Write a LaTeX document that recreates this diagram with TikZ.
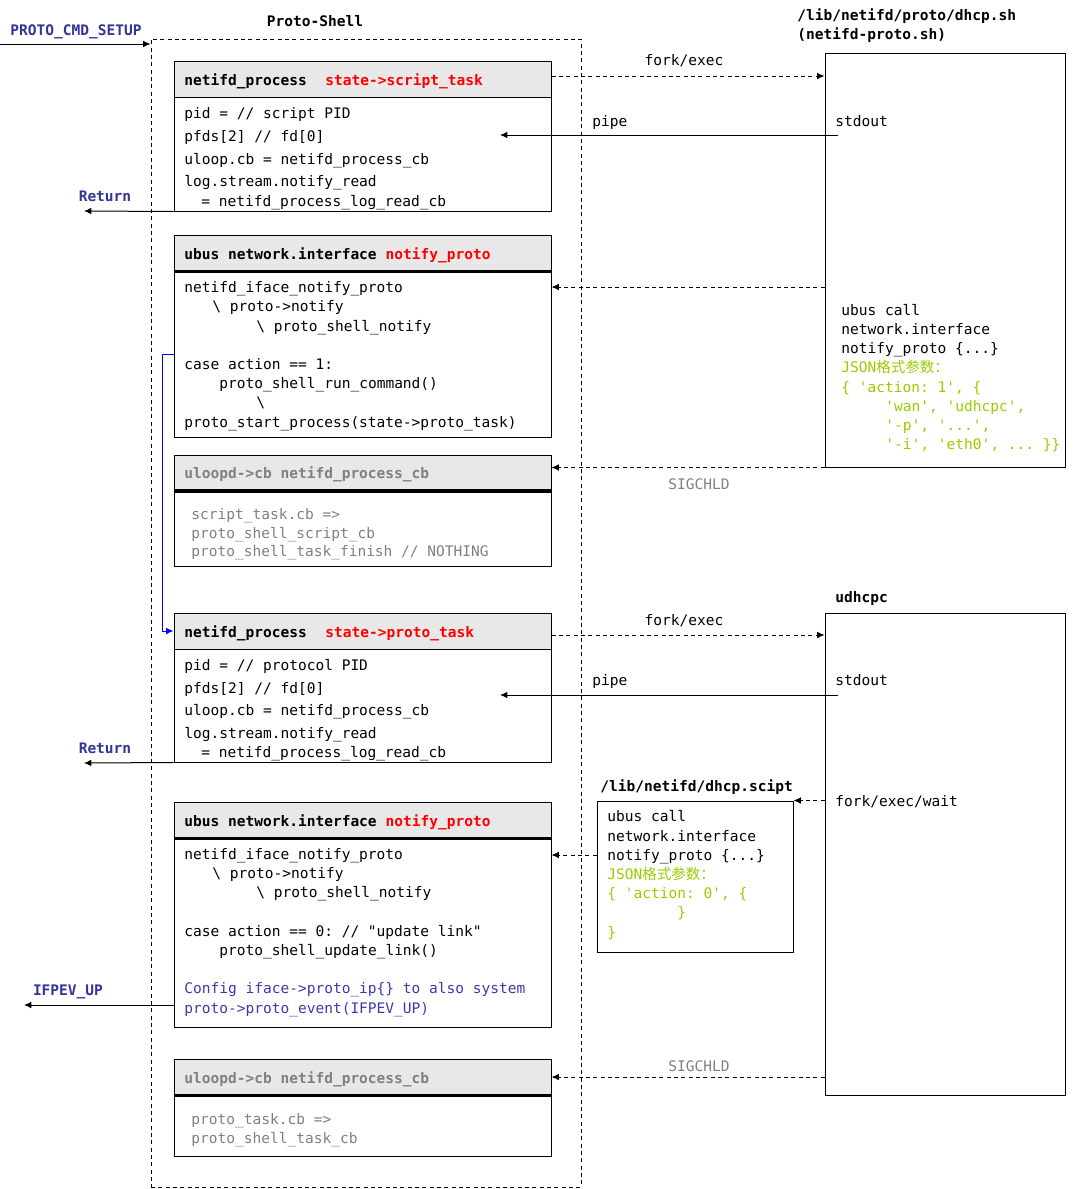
\documentclass[tikz,border=0pt]{standalone}
\usepackage{fontspec}
\setmonofont{DejaVu Sans Mono}
\newfontfamily\cjk{Noto Sans CJK SC}
\usetikzlibrary{arrows.meta,fit}
\definecolor{lblue}{RGB}{51,51,153}
\definecolor{cblue}{RGB}{58,58,175}
\definecolor{jgreen}{RGB}{153,204,0}
\definecolor{tgray}{RGB}{128,128,128}
\definecolor{hgray}{RGB}{232,232,232}
\definecolor{lnblue}{RGB}{0,0,255}
\newcommand\cf{\ttfamily\fontsize{10.9}{13}\selectfont}
\newcommand\putl[4]{\node[code] (#1) at (#2,#3) {#4};}
\newcommand\us{\_}
\newcommand\bs{\textbackslash}
\tikzset{
  code/.style={anchor=west, inner sep=0pt, font=\cf, text height=1.55ex, text depth=0.35ex, yshift=-1.5pt},
  bcode/.style={code, font=\cf\bfseries},
  hdr/.style={draw, fill=hgray, inner sep=0pt, line width=0.75pt},
  bodybox/.style={draw, inner sep=0pt, line width=0.75pt},
  arr/.style={line width=0.75pt, -{Latex[length=5.5pt,width=5pt]}},
  dasharr/.style={arr, dash pattern=on 3pt off 2.5pt},
}
\begin{document}
\begin{tikzpicture}[x=0.75pt,y=-0.75pt]
\useasboundingbox (0,0) rectangle (1075,1189);
% outer dashed Proto-Shell box
\node[draw, inner sep=0pt, line width=0.75pt, dash pattern=on 3pt off 2.5pt, fit={(151,39)(581,1187)}] (ps) {};
\node[bcode, anchor=center] (pstitle) at (315,21) {Proto-Shell};
\node[bcode, anchor=center, text=lblue] (cmdlbl) at (76,30) {PROTO\us CMD\us SETUP};
\coordinate (cmdin) at (0,44);
\draw[arr] (cmdin) -- (cmdin -| ps.west);

% right boxes
\node[bodybox, fit={(825,53)(1065,467)}] (sh) {};
\putl{shtitle1}{797}{15}{\bfseries /lib/netifd/proto/dhcp.sh}
\putl{shtitle2}{797}{34}{\bfseries (netifd-proto.sh)}
\node[bodybox, fit={(825,613)(1065,1095)}] (ud) {};
\putl{udtitle}{835}{597}{\bfseries udhcpc}
\node[bodybox, fit={(597,801)(793,952)}] (scr) {};
\putl{scrtitle}{600}{786}{\bfseries /lib/netifd/dhcp.scipt}

% Box 1
\node[hdr, fit={(174,61)(551,97)}] (h1) {};
\node[bodybox, fit={(174,97)(551,211)}] (b1) {};
\putl{h1a}{184}{80}{\bfseries netifd\us process}
\putl{h1b}{325}{80}{\bfseries\color{red}state->script\us task}
\putl{b1l1}{184}{113}{pid = // script PID}
\putl{b1l2}{184}{136}{pfds[2] // fd[0]}
\putl{b1l3}{184}{159}{uloop.cb = netifd\us process\us cb}
\putl{b1l4}{184}{181}{log.stream.notify\us read}
\putl{b1l5}{201}{201}{= netifd\us process\us log\us read\us cb}

% Box 2
\node[hdr, fit={(174,235)(551,271)}] (h2) {};
\node[bodybox, fit={(174,271)(551,437)}] (b2) {};
\draw[line width=1.6pt] (h2.south west) -- (h2.south east);
\putl{h2a}{184}{254}{\bfseries ubus network.interface \textcolor{red}{notify\us proto}}
\putl{b2l1}{184}{287}{netifd\us iface\us notify\us proto}
\putl{b2l2}{212}{306}{\bs{} proto->notify}
\putl{b2l3}{256}{326}{\bs{} proto\us shell\us notify}
\putl{b2l4}{184}{364}{case action == 1:}
\putl{b2l5}{219}{383}{proto\us shell\us run\us command()}
\putl{b2l6}{256}{402}{\bs}
\putl{b2l7}{184}{422}{proto\us start\us process(state->proto\us task)}

% Box 3
\node[hdr, fit={(174,455)(551,490)}] (h3) {};
\node[bodybox, fit={(174,492)(551,566)}] (b3) {};
\draw[line width=1.6pt] (h3.south west) -- (h3.south east);
\putl{h3a}{184}{473}{\bfseries\color{tgray}uloopd->cb netifd\us process\us cb}
\putl{b3l1}{191}{514}{\color{tgray}script\us task.cb =>}
\putl{b3l2}{191}{533}{\color{tgray}proto\us shell\us script\us cb}
\putl{b3l3}{191}{551}{\color{tgray}proto\us shell\us task\us finish // NOTHING}

% Box 4
\node[hdr, fit={(174,613)(551,649)}] (h4) {};
\node[bodybox, fit={(174,649)(551,762)}] (b4) {};
\putl{h4a}{184}{632}{\bfseries netifd\us process}
\putl{h4b}{325}{632}{\bfseries\color{red}state->proto\us task}
\putl{b4l1}{184}{665}{pid = // protocol PID}
\putl{b4l2}{184}{688}{pfds[2] // fd[0]}
\putl{b4l3}{184}{710}{uloop.cb = netifd\us process\us cb}
\putl{b4l4}{184}{733}{log.stream.notify\us read}
\putl{b4l5}{201}{752}{= netifd\us process\us log\us read\us cb}

% Box 5
\node[hdr, fit={(174,802)(551,838)}] (h5) {};
\node[bodybox, fit={(174,838)(551,1027)}] (b5) {};
\draw[line width=1.6pt] (h5.south west) -- (h5.south east);
\putl{h5a}{184}{821}{\bfseries ubus network.interface \textcolor{red}{notify\us proto}}
\putl{b5l1}{184}{854}{netifd\us iface\us notify\us proto}
\putl{b5l2}{212}{873}{\bs{} proto->notify}
\putl{b5l3}{256}{892}{\bs{} proto\us shell\us notify}
\putl{b5l4}{184}{931}{case action == 0: // "update link"}
\putl{b5l5}{219}{950}{proto\us shell\us update\us link()}
\putl{b5l6}{184}{988}{\color{cblue}Config iface->proto\us ip\{\} to also system}
\putl{b5l7}{184}{1008}{\color{cblue}proto->proto\us event(IFPEV\us UP)}

% Box 6
\node[hdr, fit={(174,1059)(551,1095)}] (h6) {};
\node[bodybox, fit={(174,1095)(551,1156)}] (b6) {};
\draw[line width=1.6pt] (h6.south west) -- (h6.south east);
\putl{h6a}{184}{1078}{\bfseries\color{tgray}uloopd->cb netifd\us process\us cb}
\putl{b6l1}{191}{1119}{\color{tgray}proto\us task.cb =>}
\putl{b6l2}{191}{1138}{\color{tgray}proto\us shell\us task\us cb}

% right box 1 texts
\putl{so1}{835}{121}{stdout}
\putl{sh1}{841}{310}{ubus call}
\putl{sh2}{841}{329}{network.interface}
\putl{sh3}{841}{348}{notify\us proto \{...\}}
\putl{sh4}{841}{367}{\color{jgreen}JSON{\cjk 格式参数：}}
\putl{sh5}{841}{387}{\color{jgreen}\{ 'action: 1', \{}
\putl{sh6}{885}{406}{\color{jgreen}'wan', 'udhcpc',}
\putl{sh7}{885}{425}{\color{jgreen}'-p', '...',}
\putl{sh8}{885}{444}{\color{jgreen}'-i', 'eth0', ... \}\}}

% udhcpc texts
\putl{so2}{835}{680}{stdout}
\putl{few}{835}{801}{fork/exec/wait}

% script box texts
\putl{sc1}{607}{816}{ubus call}
\putl{sc2}{607}{836}{network.interface}
\putl{sc3}{607}{855}{notify\us proto \{...\}}
\putl{sc4}{607}{874}{\color{jgreen}JSON{\cjk 格式参数：}}
\putl{sc5}{607}{893}{\color{jgreen}\{ 'action: 0', \{}
\putl{sc6}{677}{912}{\color{jgreen}\}}
\putl{sc7}{607}{932}{\color{jgreen}\}}

% connector labels
\node[code, anchor=center] (fe1) at (684,60) {fork/exec};
\node[code, anchor=center] (fe2) at (684,620) {fork/exec};
\putl{pp1}{592}{121}{pipe}
\putl{pp2}{592}{680}{pipe}
\node[code, anchor=center, text=tgray] (sg1) at (699,484) {SIGCHLD};
\node[code, anchor=center, text=tgray] (sg2) at (699,1066) {SIGCHLD};
\node[bcode, anchor=center, text=lblue] (ret1) at (105,196) {Return};
\node[bcode, anchor=center, text=lblue] (ret2) at (105,748) {Return};
\node[bcode, anchor=center, text=lblue] (ifup) at (68,990) {IFPEV\us UP};

% connectors
\draw[dasharr] ([yshift=2.25pt]h1.east) -- ([yshift=2.25pt]h1.east -| sh.west);
\coordinate (p1s) at (838,135); \coordinate (p1e) at (500,135);
\draw[arr] (p1s) -- (p1e);
\coordinate (r1e) at (84,211);
\draw[arr] (b1.south west) -- (r1e);
\draw[dasharr] (sh.west |- 0,287) -- (b2.east |- 0,287);
\draw[dasharr] (sh.south west) -- (h3.east |- sh.south west);
\draw[arr, draw=lnblue, -{Latex[length=5.5pt,width=5pt,fill=lnblue]}] (b2.west) -- ++(-11,0) |- (h4.west);

\draw[dasharr] ([yshift=-3pt]h4.east) -- ([yshift=-3pt]h4.east -| ud.west);
\coordinate (p2s) at (838,695); \coordinate (p2e) at (500,695);
\draw[arr] (p2s) -- (p2e);
\coordinate (r2e) at (84,763);
\draw[arr] (b4.south west) -- (r2e);
\draw[dasharr] (scr.north east -| ud.west) -- (scr.north east);
\draw[dasharr] (scr.west |- 0,855) -- (b5.east |- 0,855);
\coordinate (ifs) at (174,1005); \coordinate (ife) at (24,1005);
\draw[arr] (ifs) -- (ife);
\draw[dasharr] (h6.east -| ud.west) -- (h6.east);
\end{tikzpicture}
\end{document}
